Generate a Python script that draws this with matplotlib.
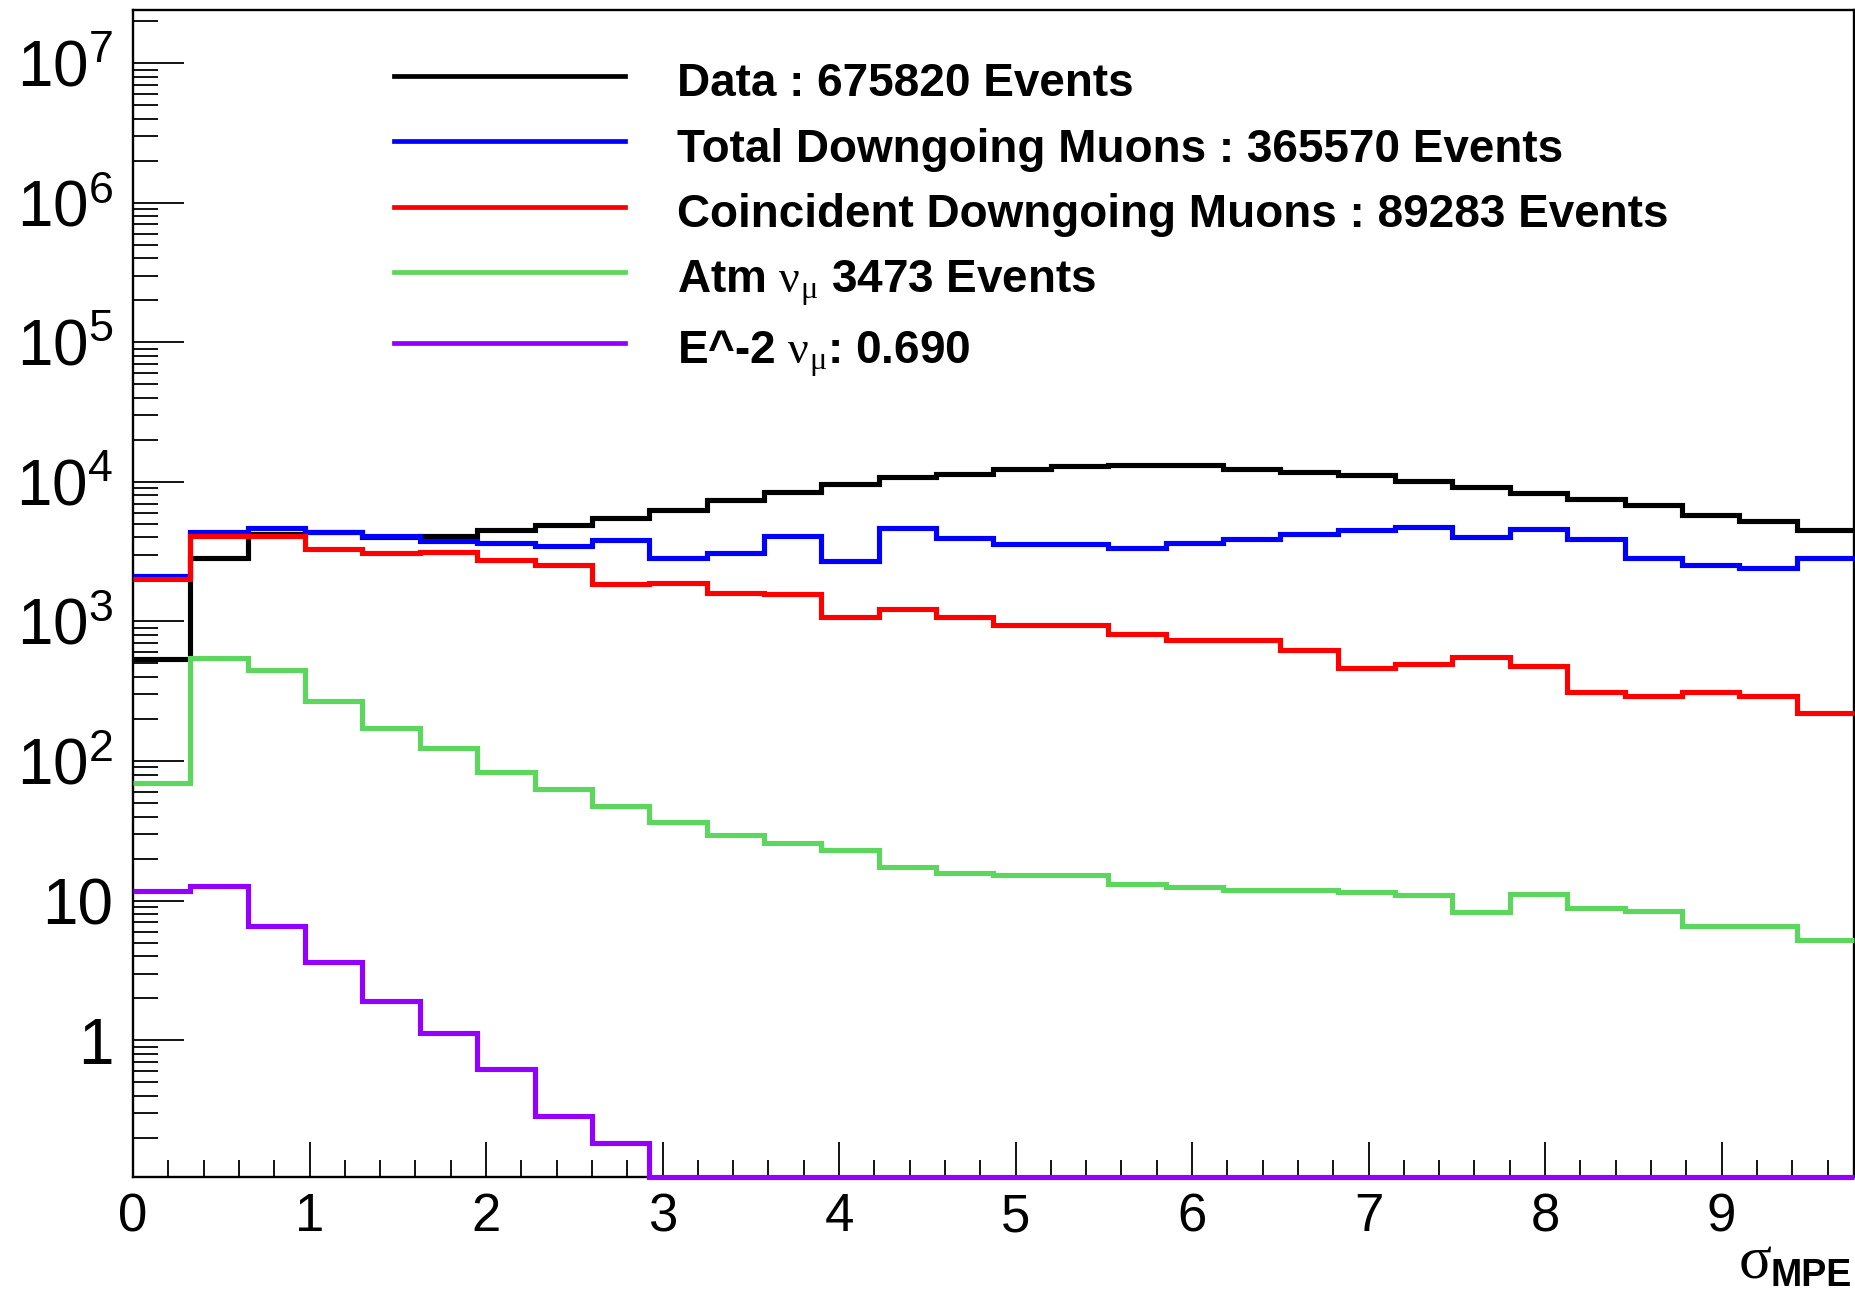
import matplotlib

matplotlib.use("Agg")
import matplotlib.pyplot as plt
import numpy as np
from matplotlib import font_manager
from matplotlib.ticker import FixedLocator, FuncFormatter, LogLocator, MultipleLocator, NullFormatter

# bin layout of the sigma_MPE histograms
n_bins = 30
bin_width = 0.325

data_counts = [537, 2870, 4270, 4350, 4050, 4100, 4530, 4900, 5560, 6310,
               7400, 8470, 9620, 10860, 11480, 12450, 13020, 13240, 13160, 12450,
               11860, 11220, 10170, 9260, 8400, 7520, 6810, 5810, 5260, 4530]
total_mu = [2120, 4410, 4690, 4410, 4100, 3780, 3680, 3450, 3820, 2870,
            3120, 4100, 2720, 4710, 3950, 3580, 3620, 3390, 3680, 3880,
            4220, 4530, 4790, 4040, 4580, 3930, 2870, 2530, 2410, 2870]
coinc_mu = [2010, 4100, 4100, 3300, 3120, 3160, 2770, 2560, 1870, 1900,
            1600, 1570, 1070, 1225, 1080, 946, 946, 811, 739, 739,
            627, 461, 495, 553, 482, 310, 294, 310, 294, 221]
atm_numu = [69.8, 550, 447, 271, 172, 124, 83.3, 62.8, 47.9, 36.5,
            29.4, 25.9, 23.0, 17.3, 15.8, 15.2, 15.2, 13.1, 12.5, 12.0,
            12.0, 11.6, 10.9, 8.30, 11.2, 8.78, 8.44, 6.56, 6.56, 5.2]
e2_numu = [11.7, 12.7, 6.59, 3.61, 1.91, 1.12, 0.624, 0.286, 0.184, 0,
           0, 0, 0, 0, 0, 0, 0, 0, 0, 0,
           0, 0, 0, 0, 0, 0, 0, 0, 0, 0]

labels = [
    "Data : 675820 Events",
    "Total Downgoing Muons : 365570 Events",
    "Coincident Downgoing Muons : 89283 Events",
    r"Atm $\mathrm{ν}_{\mathrm{μ}}$ 3473 Events",
    r"E^-2 $\mathrm{ν}_{\mathrm{μ}}$: 0.690",
]
colors = ["#000000", "#0000ff", "#ff0000", "#5cd65c", "#9400ff"]

y_min, y_max = 0.1045, 2.41e7


def pick_family(names: list[str]) -> str:
    have = {f.name for f in font_manager.fontManager.ttflist}
    for name in names:
        if name in have:
            return name
    return "DejaVu Sans"


narrow = pick_family(["Liberation Sans Narrow", "Liberation Sans", "Arial"])
regular = pick_family(["Liberation Sans", "Arial"])
serif = pick_family(["Liberation Serif", "DejaVu Serif"])
plt.rcParams["font.family"] = regular
plt.rcParams["mathtext.fontset"] = "custom"
plt.rcParams["mathtext.rm"] = serif
plt.rcParams["mathtext.it"] = serif + ":italic"


def ytick_label(value: float, _pos) -> str:
    k = int(round(np.log10(value)))
    if k == 0:
        return "1"
    if k == 1:
        return "10"
    return r"$\mathregular{10^{%d}}$" % k


fig = plt.figure(figsize=(18.56, 12.95), dpi=100)
ax = fig.add_axes([133 / 1856, 1 - 1177 / 1295, (1854 - 133) / 1856, (1177 - 10) / 1295])

edges = np.arange(n_bins + 1) * bin_width
series = [data_counts, total_mu, coinc_mu, atm_numu, e2_numu]
handles = []
for i, (vals, col, lab) in enumerate(zip(series, colors, labels)):
    vals = np.asarray(vals, dtype=float)
    # empty bins sit on the lower frame, like ROOT does on a log axis
    vals = np.where(vals > 0, vals, y_min)
    ax.stairs(vals, edges, color=col, linewidth=3.7, baseline=None, zorder=2 + i, clip_on=False)
    handles.append(plt.Line2D([], [], color=col, linewidth=3.4, label=lab))

ax.set_yscale("log")
ax.set_xlim(0, n_bins * bin_width)
ax.set_ylim(y_min, y_max)

ax.xaxis.set_major_locator(MultipleLocator(1))
ax.xaxis.set_minor_locator(MultipleLocator(0.2))
ax.yaxis.set_major_locator(FixedLocator([10.0 ** k for k in range(0, 8)]))
ax.yaxis.set_major_formatter(FuncFormatter(ytick_label))
ax.yaxis.set_minor_locator(LogLocator(base=10, subs=np.arange(2, 10), numticks=30))
ax.yaxis.set_minor_formatter(NullFormatter())

for side in ax.spines.values():
    side.set_linewidth(1.7)
ax.tick_params(axis="both", which="both", direction="in", top=False, right=False, width=1.3, color="black")
ax.tick_params(axis="y", which="major", length=36.5, pad=14, labelsize=46)
ax.tick_params(axis="y", which="minor", length=18)
ax.tick_params(axis="x", which="major", length=25, pad=11, labelsize=38)
ax.tick_params(axis="x", which="minor", length=12.5)
for lab in ax.get_xticklabels() + ax.get_yticklabels():
    lab.set_family(narrow)

ax.legend(
    handles=handles,
    loc="upper left",
    bbox_to_anchor=((394 - 133) / 1721, (1177 - 55) / 1167),
    frameon=False,
    borderpad=0,
    borderaxespad=0,
    handlelength=5.05,
    handleheight=1.35,
    handletextpad=1.13,
    labelspacing=0.31,
    prop={"family": regular, "weight": "bold", "size": 33},
)

fig.text(1772 / 1856, 1 - 1277 / 1295, r"$\mathrm{σ}$", ha="right", va="baseline", fontsize=44)
fig.text(1852 / 1856, 1 - 1286 / 1295, "MPE", ha="right", va="baseline", fontsize=27,
         weight="bold", family=regular)

fig.savefig("out.png", dpi=100)
plt.close(fig)
